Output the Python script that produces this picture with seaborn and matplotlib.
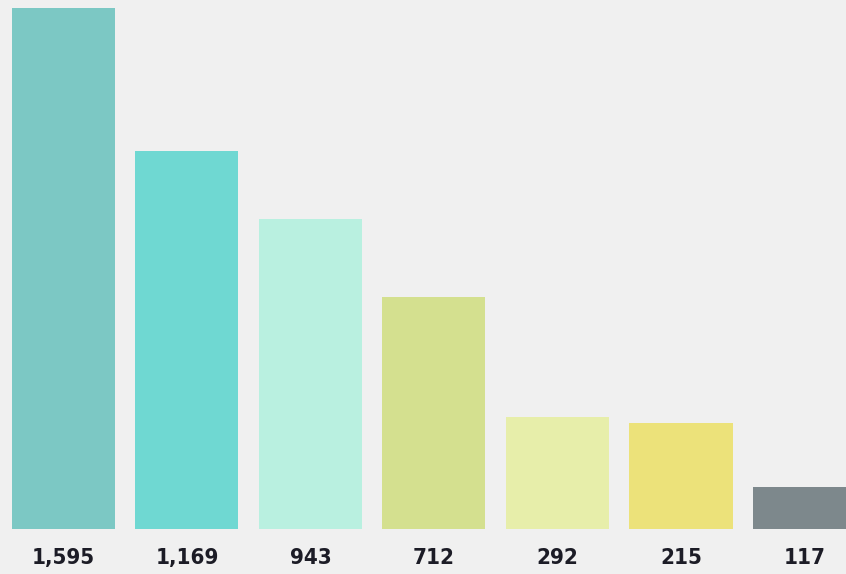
import matplotlib
matplotlib.use("Agg")
import matplotlib.pyplot as plt
import seaborn as sns
import pandas as pd
from matplotlib import font_manager

# Data
categories = ["A", "B", "C", "D", "E", "F", "G"]
labels = ["1,595", "1,169", "943", "712", "292", "215", "117"]
bar_heights = [1595, 1157, 949, 710, 343, 324, 129]
colors = ["#7cc8c4", "#6fd8d2", "#b9f0e0", "#d4e08f", "#e7eeaa", "#ece27a", "#7d888c"]

sns.set_theme(style="white")
names = {f.name for f in font_manager.fontManager.ttflist}
cands = [n for n in ["Liberation Sans Narrow", "DejaVu Sans Condensed", "DejaVu Sans"] if n in names]
plt.rcParams["font.family"] = cands

df = pd.DataFrame({"cat": categories, "value": bar_heights})

fig = plt.figure(figsize=(8.46, 5.74), dpi=100)
bg = "#f0f0f0"
fig.patch.set_facecolor(bg)
ax = fig.add_axes([0, 45 / 574, 1, 529 / 574])
ax.set_facecolor(bg)

sns.barplot(data=df, x="cat", y="value", hue="cat", palette=colors,
            legend=False, width=0.834, saturation=1, linewidth=0, ax=ax)

ax.set_ylim(0, 1595 * 529 / 521)
ax.set_xlim(-0.514, 6.336)
for s in ax.spines.values():
    s.set_visible(False)
ax.set_yticks([])
ax.set_xlabel("")
ax.set_ylabel("")
ax.set_xticks(range(len(labels)))
ax.set_xticklabels(labels, fontsize=16, fontweight="bold", color="#1c1c26",
                   fontstretch="condensed")
ax.tick_params(axis="x", length=0, pad=14)

fig.savefig("out.png", dpi=100, facecolor=bg)
